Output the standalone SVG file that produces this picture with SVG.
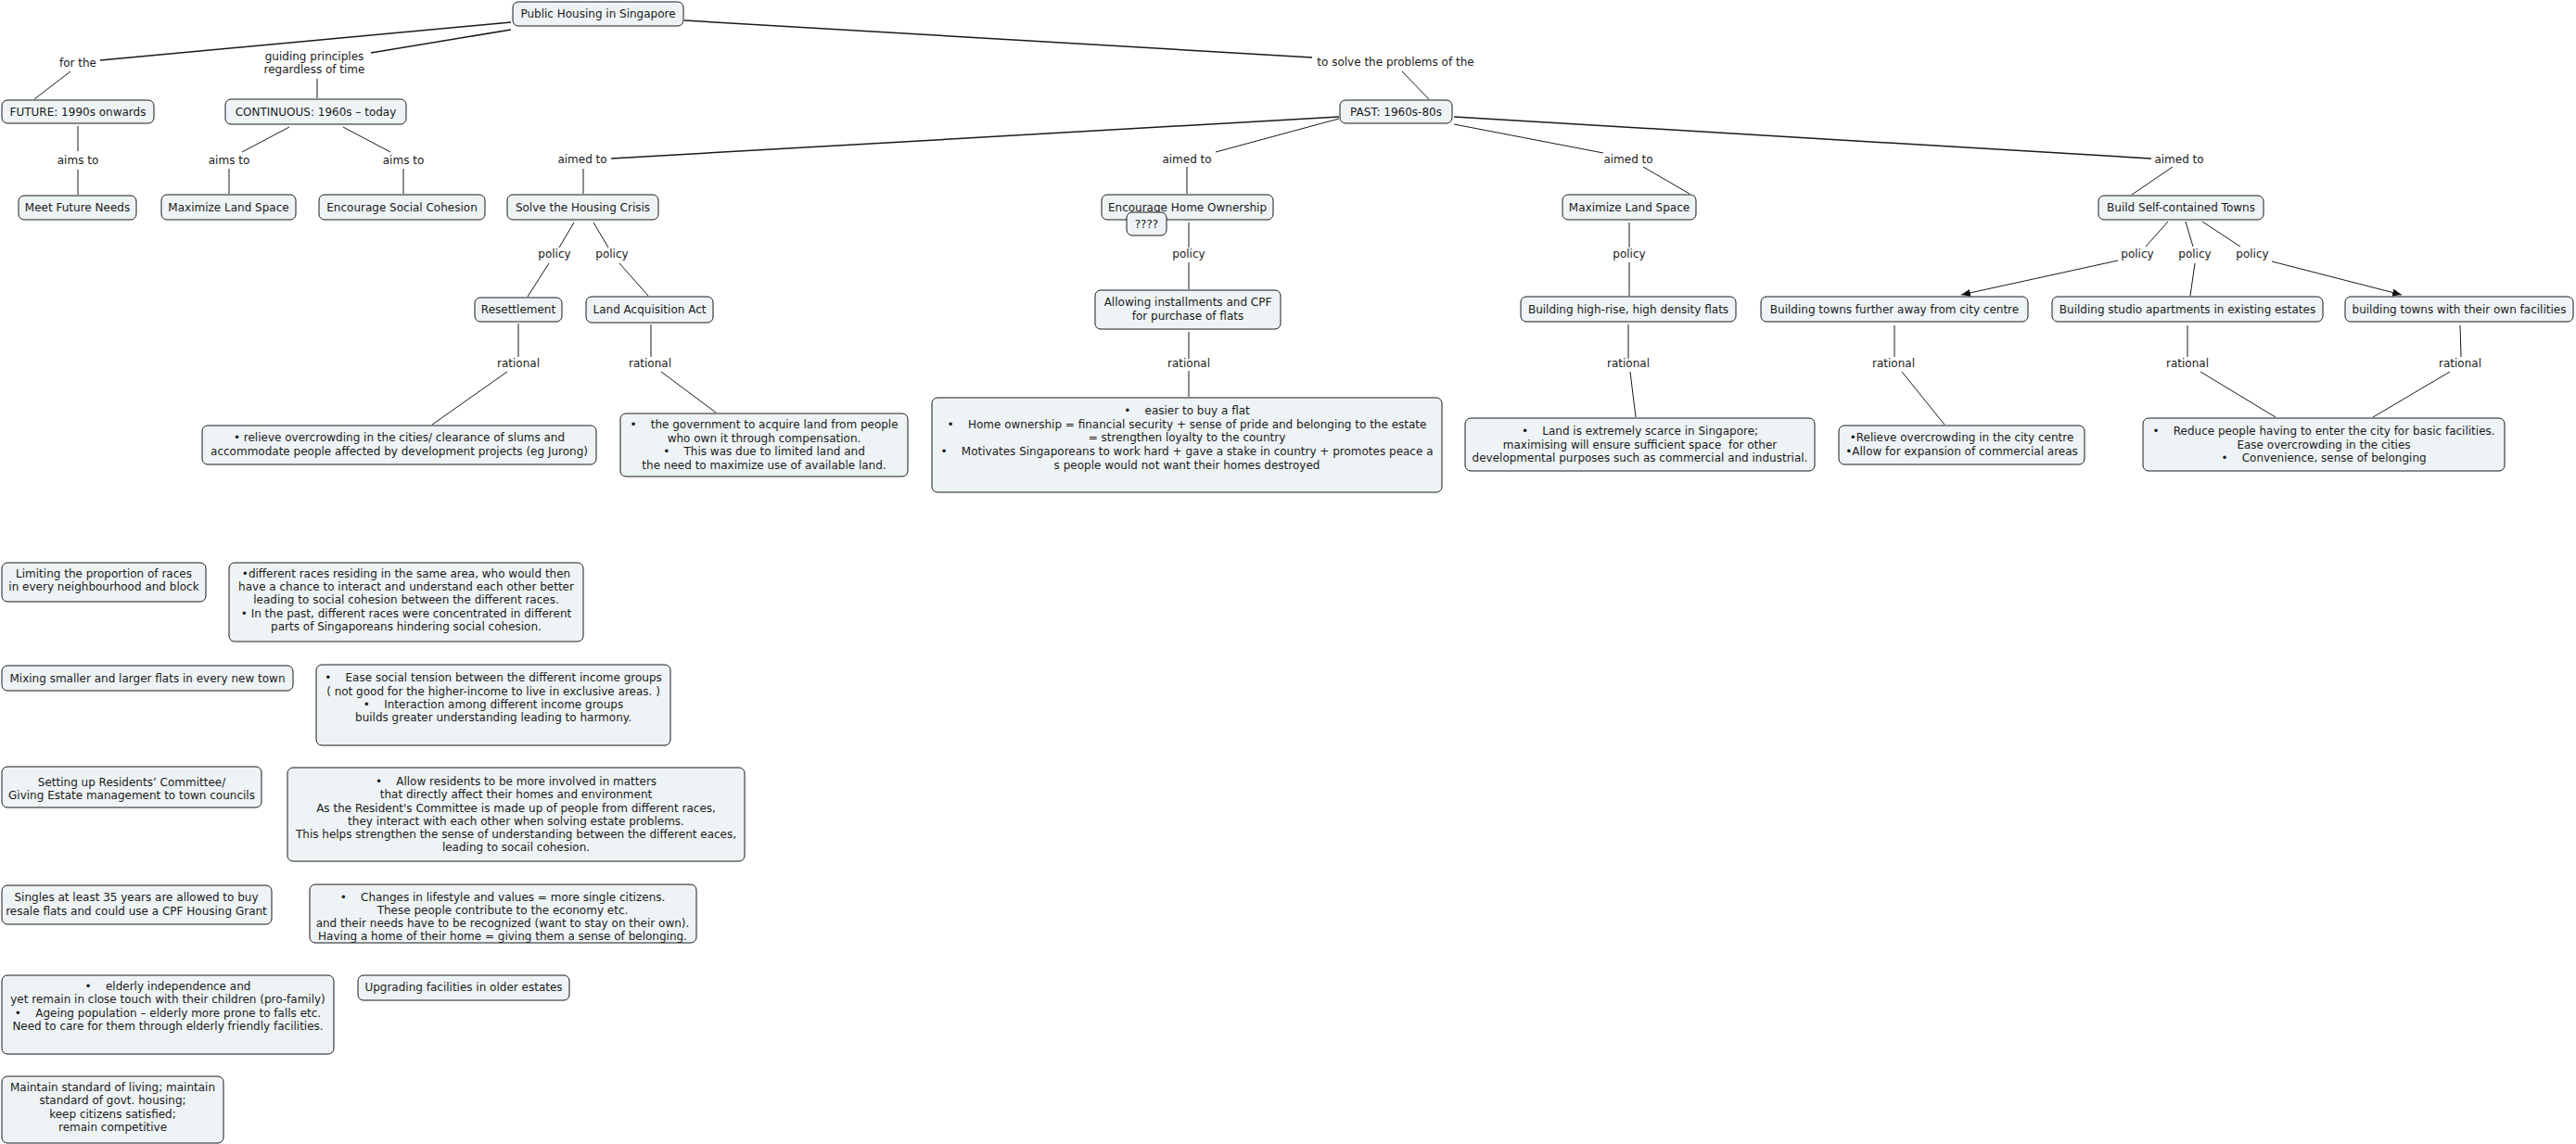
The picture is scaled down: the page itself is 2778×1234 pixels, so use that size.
<svg xmlns="http://www.w3.org/2000/svg" width="2778" height="1234" viewBox="0 0 2778 1234">
<style>
text{font-family:"DejaVu Sans",Verdana,sans-serif;font-size:12px;fill:#1a1a1a;text-anchor:middle}
.box{fill:#eef3f5;stroke:#1a1a1a;stroke-width:1}
.c line{stroke:#1a1a1a;stroke-width:1;fill:none}
.c line.t{stroke-width:1.5}
</style>
<defs>
<marker id="arr" markerUnits="userSpaceOnUse" markerWidth="12" markerHeight="10" refX="10" refY="4" orient="auto">
<path d="M0,0 L10,4 L0,8 Z" fill="#111"/>
</marker>
</defs>
<rect width="2778" height="1234" fill="#fff"/>

<g id="connectors" class="c">
<line class="t" x1="551" y1="24" x2="108" y2="65"/>
<line x1="76" y1="77" x2="37" y2="107"/>
<line class="t" x1="551" y1="32" x2="400" y2="57"/>
<line x1="342" y1="85" x2="342" y2="106"/>
<line class="t" x1="738" y1="22" x2="1415" y2="62"/>
<line x1="1512" y1="77" x2="1541" y2="107"/>
<line x1="84" y1="136" x2="84" y2="163"/>
<line x1="84" y1="183" x2="84" y2="210"/>
<line x1="312" y1="137" x2="261" y2="164"/>
<line x1="247" y1="182" x2="247" y2="209"/>
<line x1="370" y1="137" x2="421" y2="164"/>
<line x1="435" y1="182" x2="435" y2="209"/>
<line class="t" x1="1444" y1="126" x2="659" y2="171"/>
<line x1="629" y1="182" x2="629" y2="209"/>
<line x1="1444" y1="128" x2="1311" y2="164"/>
<line x1="1280" y1="180" x2="1280" y2="209"/>
<line x1="1568" y1="134" x2="1729" y2="165"/>
<line x1="1772" y1="180" x2="1822" y2="209"/>
<line class="t" x1="1568" y1="126" x2="2320" y2="171"/>
<line x1="2343" y1="180" x2="2299" y2="210"/>
<line x1="619" y1="240" x2="603" y2="267"/>
<line x1="592" y1="284" x2="569" y2="320"/>
<line x1="640" y1="240" x2="656" y2="267"/>
<line x1="668" y1="284" x2="699" y2="319"/>
<line x1="559" y1="349" x2="559" y2="385"/>
<line x1="547" y1="401" x2="466" y2="458"/>
<line x1="702" y1="350" x2="702" y2="385"/>
<line x1="713" y1="401" x2="772" y2="445"/>
<line x1="1282" y1="240" x2="1282" y2="267"/>
<line x1="1282" y1="283" x2="1282" y2="312"/>
<line x1="1282" y1="358" x2="1282" y2="387"/>
<line x1="1282" y1="400" x2="1282" y2="428"/>
<line x1="1757" y1="240" x2="1757" y2="267"/>
<line x1="1757" y1="283" x2="1757" y2="319"/>
<line x1="1756" y1="350" x2="1756" y2="387"/>
<line x1="1758" y1="401" x2="1764" y2="450"/>
<line x1="2338" y1="239" x2="2314" y2="266"/>
<line x1="2284" y1="281" x2="2115" y2="318" marker-end="url(#arr)"/>
<line x1="2357" y1="239" x2="2365" y2="266"/>
<line x1="2367" y1="284" x2="2362" y2="319"/>
<line x1="2375" y1="239" x2="2416" y2="266"/>
<line x1="2450" y1="282" x2="2590" y2="318" marker-end="url(#arr)"/>
<line x1="2043" y1="351" x2="2043" y2="385"/>
<line x1="2051" y1="401" x2="2097" y2="458"/>
<line x1="2359" y1="351" x2="2359" y2="385"/>
<line x1="2373" y1="401" x2="2454" y2="450"/>
<line x1="2653" y1="351" x2="2654" y2="385"/>
<line x1="2642" y1="401" x2="2559" y2="450"/>
</g>

<g id="linking-phrases">
<g id="l-forthe"><text x="84" y="72">for the</text></g>
<g id="l-guiding"><text x="339" y="65">guiding principles</text><text x="339" y="79">regardless of time</text></g>
<g id="l-tosolve"><text x="1505" y="71">to solve the problems of the</text></g>
<g id="l-aims1"><text x="84" y="177">aims to</text></g>
<g id="l-aims2"><text x="247" y="177">aims to</text></g>
<g id="l-aims3"><text x="435" y="177">aims to</text></g>
<g id="l-aimed1"><text x="628" y="176">aimed to</text></g>
<g id="l-aimed2"><text x="1280" y="176">aimed to</text></g>
<g id="l-aimed3"><text x="1756" y="176">aimed to</text></g>
<g id="l-aimed4"><text x="2350" y="176">aimed to</text></g>
<g id="l-policy1"><text x="598" y="278">policy</text></g>
<g id="l-policy2"><text x="660" y="278">policy</text></g>
<g id="l-policy3"><text x="1282" y="278">policy</text></g>
<g id="l-policy4"><text x="1757" y="278">policy</text></g>
<g id="l-policy5"><text x="2305" y="278">policy</text></g>
<g id="l-policy6"><text x="2367" y="278">policy</text></g>
<g id="l-policy7"><text x="2429" y="278">policy</text></g>
<g id="l-rational1"><text x="559" y="396">rational</text></g>
<g id="l-rational2"><text x="701" y="396">rational</text></g>
<g id="l-rational3"><text x="1282" y="396">rational</text></g>
<g id="l-rational4"><text x="1756" y="396">rational</text></g>
<g id="l-rational5"><text x="2042" y="396">rational</text></g>
<g id="l-rational6"><text x="2359" y="396">rational</text></g>
<g id="l-rational7"><text x="2653" y="396">rational</text></g>
</g>

<g id="n-phs"><rect class="box" x="553" y="2" width="184" height="26" rx="6"/><text x="645" y="19">Public Housing in Singapore</text></g>
<g id="n-future"><rect class="box" x="2" y="108" width="164" height="25" rx="6"/><text x="84" y="125">FUTURE: 1990s onwards</text></g>
<g id="n-continuous"><rect class="box" x="243" y="107" width="195" height="27" rx="6"/><text x="340.5" y="125">CONTINUOUS: 1960s – today</text></g>
<g id="n-meetfuture"><rect class="box" x="20" y="211" width="127" height="26" rx="6"/><text x="83.5" y="228">Meet Future Needs</text></g>
<g id="n-maxland1"><rect class="box" x="174" y="210" width="145" height="27" rx="6"/><text x="246.5" y="228">Maximize Land Space</text></g>
<g id="n-social"><rect class="box" x="344" y="210" width="179" height="27" rx="6"/><text x="433.5" y="228">Encourage Social Cohesion</text></g>
<g id="n-solve"><rect class="box" x="547" y="210" width="163" height="27" rx="6"/><text x="628.5" y="228">Solve the Housing Crisis</text></g>
<g id="n-past"><rect class="box" x="1445" y="108" width="121" height="25" rx="6"/><text x="1505.5" y="125">PAST: 1960s-80s</text></g>
<g id="n-homeown"><rect class="box" x="1188" y="210" width="185" height="27" rx="6"/><text x="1280.5" y="228">Encourage Home Ownership</text></g>
<g id="n-qqqq"><rect class="box" x="1215" y="229" width="43" height="25" rx="6"/><text x="1236.5" y="246">????</text></g>
<g id="n-maxland2"><rect class="box" x="1685" y="210" width="144" height="27" rx="6"/><text x="1757" y="228">Maximize Land Space</text></g>
<g id="n-selftowns"><rect class="box" x="2263" y="211" width="178" height="26" rx="6"/><text x="2352" y="228">Build Self-contained Towns</text></g>
<g id="n-resettle"><rect class="box" x="512" y="321" width="94" height="26" rx="6"/><text x="559" y="338">Resettlement</text></g>
<g id="n-laa"><rect class="box" x="632" y="320" width="137" height="28" rx="6"/><text x="700.5" y="338">Land Acquisition Act</text></g>
<g id="n-allowing"><rect class="box" x="1181" y="313" width="200" height="42" rx="6"/><text x="1281" y="330">Allowing installments and CPF</text><text x="1281" y="345">for purchase of flats</text></g>
<g id="n-highrise"><rect class="box" x="1640" y="320" width="232" height="27" rx="6"/><text x="1756" y="338">Building high-rise, high density flats</text></g>
<g id="n-further"><rect class="box" x="1899" y="320" width="288" height="27" rx="6"/><text x="2043" y="338">Building towns further away from city centre</text></g>
<g id="n-studio"><rect class="box" x="2213" y="320" width="292" height="27" rx="6"/><text x="2359" y="338">Building studio apartments in existing estates</text></g>
<g id="n-ownfac"><rect class="box" x="2529" y="320" width="246" height="27" rx="6"/><text x="2652" y="338">building towns with their own facilities</text></g>

<g id="n-relieve"><rect class="box" x="218" y="459" width="425" height="42" rx="6"/><text x="430.5" y="476">• relieve overcrowding in the cities/ clearance of slums and</text><text x="430.5" y="491">accommodate people affected by development projects (eg Jurong)</text></g>
<g id="n-gov"><rect class="box" x="669" y="446" width="310" height="68" rx="6"/><text x="824" y="462">•&#160;&#160;&#160; the government to acquire land from people</text><text x="824" y="477">who own it through compensation.</text><text x="824" y="491">•&#160;&#160;&#160; This was due to limited land and</text><text x="824" y="506">the need to maximize use of available land.</text></g>
<g id="n-easier"><rect class="box" x="1005" y="429" width="550" height="102" rx="6"/><text x="1280" y="447">•&#160;&#160;&#160; easier to buy a flat</text><text x="1280" y="462">•&#160;&#160;&#160; Home ownership = financial security + sense of pride and belonging to the estate</text><text x="1280" y="476">= strengthen loyalty to the country</text><text x="1280" y="491">•&#160;&#160;&#160; Motivates Singaporeans to work hard + gave a stake in country + promotes peace a</text><text x="1280" y="506">s people would not want their homes destroyed</text></g>
<g id="n-scarce"><rect class="box" x="1580" y="451" width="377" height="57" rx="6"/><text x="1768.5" y="469">•&#160;&#160;&#160; Land is extremely scarce in Singapore;</text><text x="1768.5" y="484">maximising will ensure sufficient space&#160; for other</text><text x="1768.5" y="498">developmental purposes such as commercial and industrial.</text></g>
<g id="n-citycentre"><rect class="box" x="1983" y="459" width="265" height="42" rx="6"/><text x="2115.5" y="476">•Relieve overcrowding in the city centre</text><text x="2115.5" y="491">•Allow for expansion of commercial areas</text></g>
<g id="n-reduce"><rect class="box" x="2311" y="451" width="390" height="57" rx="6"/><text x="2506" y="469">•&#160;&#160;&#160; Reduce people having to enter the city for basic facilities.</text><text x="2506" y="484">Ease overcrowding in the cities</text><text x="2506" y="498">•&#160;&#160;&#160; Convenience, sense of belonging</text></g>

<g id="n-limiting"><rect class="box" x="2" y="607" width="220" height="42" rx="6"/><text x="112" y="623">Limiting the proportion of races</text><text x="112" y="637">in every neighbourhood and block</text></g>
<g id="n-races"><rect class="box" x="247" y="607" width="382" height="85" rx="6"/><text x="438" y="623">•different races residing in the same area, who would then</text><text x="438" y="637">have a chance to interact and understand each other better</text><text x="438" y="651">leading to social cohesion between the different races.</text><text x="438" y="666">• In the past, different races were concentrated in different</text><text x="438" y="680">parts of Singaporeans hindering social cohesion.</text></g>
<g id="n-mixing"><rect class="box" x="2" y="718" width="314" height="27" rx="6"/><text x="159" y="736">Mixing smaller and larger flats in every new town</text></g>
<g id="n-ease"><rect class="box" x="341" y="717" width="382" height="87" rx="6"/><text x="532" y="735">•&#160;&#160;&#160; Ease social tension between the different income groups</text><text x="532" y="750">( not good for the higher-income to live in exclusive areas. )</text><text x="532" y="764">•&#160;&#160;&#160; Interaction among different income groups</text><text x="532" y="778">builds greater understanding leading to harmony.</text></g>
<g id="n-setting"><rect class="box" x="2" y="827" width="280" height="44" rx="6"/><text x="142" y="848">Setting up Residents’ Committee/</text><text x="142" y="862">Giving Estate management to town councils</text></g>
<g id="n-allow"><rect class="box" x="310" y="828" width="493" height="101" rx="6"/><text x="556.5" y="847">•&#160;&#160;&#160; Allow residents to be more involved in matters</text><text x="556.5" y="861">that directly affect their homes and environment</text><text x="556.5" y="876">As the Resident's Committee is made up of people from different races,</text><text x="556.5" y="890">they interact with each other when solving estate problems.</text><text x="556.5" y="904">This helps strengthen the sense of understanding between the different eaces,</text><text x="556.5" y="918">leading to socail cohesion.</text></g>
<g id="n-singles"><rect class="box" x="2" y="955" width="291" height="42" rx="6"/><text x="147" y="972">Singles at least 35 years are allowed to buy</text><text x="147" y="987">resale flats and could use a CPF Housing Grant</text></g>
<g id="n-changes"><rect class="box" x="334" y="954" width="417" height="63" rx="6"/><text x="542" y="972">•&#160;&#160;&#160; Changes in lifestyle and values = more single citizens.</text><text x="542" y="986">These people contribute to the economy etc.</text><text x="542" y="1000">and their needs have to be recognized (want to stay on their own).</text><text x="542" y="1014">Having a home of their home = giving them a sense of belonging.</text></g>
<g id="n-elderly"><rect class="box" x="2" y="1052" width="358" height="85" rx="6"/><text x="181" y="1068">•&#160;&#160;&#160; elderly independence and</text><text x="181" y="1082">yet remain in close touch with their children (pro-family)</text><text x="181" y="1097">•&#160;&#160;&#160; Ageing population – elderly more prone to falls etc.</text><text x="181" y="1111">Need to care for them through elderly friendly facilities.</text></g>
<g id="n-upgrading"><rect class="box" x="386" y="1052" width="228" height="27" rx="6"/><text x="500" y="1069">Upgrading facilities in older estates</text></g>
<g id="n-maintain"><rect class="box" x="2" y="1161" width="239" height="72" rx="6"/><text x="121.5" y="1177">Maintain standard of living; maintain</text><text x="121.5" y="1191">standard of govt. housing;</text><text x="121.5" y="1206">keep citizens satisfied;</text><text x="121.5" y="1220">remain competitive</text></g>
</svg>
